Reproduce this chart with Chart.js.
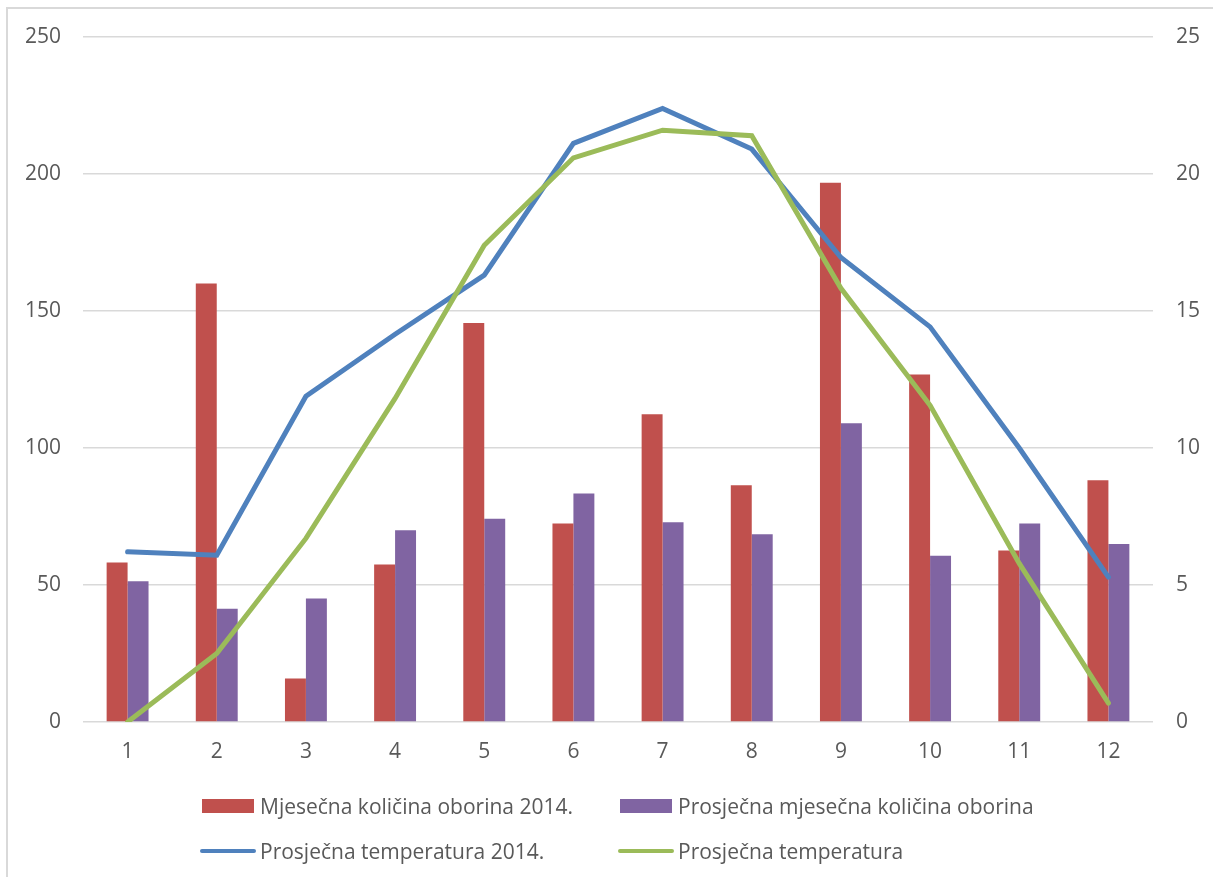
<!DOCTYPE html>
<html>
<head>
<meta charset="utf-8">
<script src="https://cdn.jsdelivr.net/npm/chart.js@4.4.0/dist/chart.umd.min.js"></script>
<style>
    body { margin: 0; background: #fff; font-family: "Open Sans", sans-serif; color: #595959; }
    #wrap { position: relative; width: 1213px; height: 877px; overflow: hidden; }
    #frame { position: absolute; left: 6px; top: 7px; width: 1300px; height: 1000px;
             border-top: 2px solid #d9d9d9; border-left: 2px solid #d9d9d9; }
    #chart { position: absolute; left: 0; top: 0; }
    .leg { position: absolute; display: flex; align-items: center; height: 24px;
           font-size: 21px; line-height: 24px; white-space: nowrap; }
    .leg .box { width: 52px; height: 14px; margin-right: 6px; }
    .leg .ln { width: 56px; height: 4px; border-radius: 2px; margin-right: 4px; }
</style>
</head>
<body>
<div id="wrap">
    <div id="frame"></div>
    <canvas id="chart" width="1213" height="877"></canvas>
    <div id="legend"></div>
</div>
<script>
var mjeseci = ['1', '2', '3', '4', '5', '6', '7', '8', '9', '10', '11', '12'];
var oborine2014 = [58.2, 160, 15.9, 57.5, 145.6, 72.4, 112.3, 86.4, 196.8, 126.8, 62.6, 88.2];
var prosjekOborine = [51.4, 41.3, 45.1, 70.0, 74.2, 83.4, 72.9, 68.5, 109.0, 60.7, 72.4, 65.0];
var temp2014 = [6.21, 6.09, 11.89, 14.15, 16.31, 21.12, 22.39, 20.91, 16.95, 14.42, 10.0, 5.29];
var prosjekTemp = [0.0, 2.5, 6.7, 11.81, 17.4, 20.59, 21.6, 21.4, 15.83, 11.56, 5.79, 0.69];

var font = { family: '"Open Sans", sans-serif', size: 21 };

var chart = new Chart(document.getElementById('chart').getContext('2d'), {
    type: 'bar',
    data: {
        labels: mjeseci,
        datasets: [{
            label: 'Mjesečna količina oborina 2014.',
            data: oborine2014,
            backgroundColor: '#C0504D',
            yAxisID: 'y',
            order: 2
        }, {
            label: 'Prosječna mjesečna količina oborina',
            data: prosjekOborine,
            backgroundColor: '#8064A2',
            yAxisID: 'y',
            order: 2
        }, {
            type: 'line',
            label: 'Prosječna temperatura 2014.',
            data: temp2014,
            borderColor: '#4F81BD',
            borderWidth: 5,
            borderCapStyle: 'round',
            pointRadius: 0,
            tension: 0,
            yAxisID: 'y1',
            order: 1
        }, {
            type: 'line',
            label: 'Prosječna temperatura',
            data: prosjekTemp,
            borderColor: '#9BBB59',
            borderWidth: 5,
            borderCapStyle: 'round',
            pointRadius: 0,
            tension: 0,
            yAxisID: 'y1',
            order: 0
        }]
    },
    options: {
        responsive: false,
        animation: false,
        devicePixelRatio: 1,
        categoryPercentage: 0.47,
        barPercentage: 1,
        layout: { padding: { top: 37, left: 0, right: 0, bottom: 105 } },
        plugins: { legend: { display: false }, tooltip: { enabled: false } },
        scales: {
            x: {
                grid: { display: false, drawTicks: false },
                border: { display: false },
                ticks: { color: '#595959', font: font, padding: 17 },
                afterFit: function (scale) { scale.height = 50; }
            },
            y: {
                position: 'left',
                min: 0, max: 250,
                grid: { color: '#d9d9d9', lineWidth: 1.5, drawTicks: false },
                border: { display: false },
                ticks: { stepSize: 50, color: '#595959', font: font, padding: 22 },
                afterFit: function (scale) { scale.width = 83; }
            },
            y1: {
                position: 'right',
                min: 0, max: 25,
                grid: { display: false, drawTicks: false },
                border: { display: false },
                ticks: { stepSize: 5, color: '#595959', font: font, padding: 23 },
                afterFit: function (scale) { scale.width = 60; }
            }
        }
    }
});

// legend in two aligned columns, like the original
var legendPos = [[200, 794], [618, 794], [200, 839], [618, 839]];
var legend = document.getElementById('legend');
chart.data.datasets.forEach(function (ds, i) {
    var item = document.createElement('div');
    item.className = 'leg';
    item.style.left = legendPos[i][0] + 'px';
    item.style.top = legendPos[i][1] + 'px';
    var mark = document.createElement('span');
    if (ds.type === 'line') {
        mark.className = 'ln';
        mark.style.background = ds.borderColor;
    } else {
        mark.className = 'box';
        mark.style.background = ds.backgroundColor;
        mark.style.marginLeft = '2px';
    }
    item.appendChild(mark);
    item.appendChild(document.createTextNode(ds.label));
    legend.appendChild(item);
});
</script>
</body>
</html>
